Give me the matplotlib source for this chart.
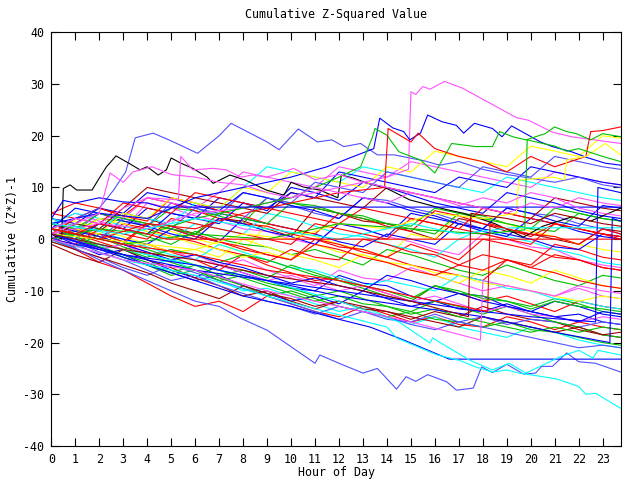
import matplotlib
matplotlib.use("Agg")
import matplotlib.pyplot as plt

# gnuplot-like line colours
RED, GREEN, BLUE, MAGENTA, CYAN = '#ff0000', '#00c000', '#0000ff', '#ff50ff', '#00ffff'
DARKRED, YELLOW, BLACK, LIGHTBLUE = '#a00000', '#ffff00', '#000000', '#5050ff'
cycle_colors = [RED, GREEN, BLUE, MAGENTA, CYAN, DARKRED, YELLOW, BLUE, LIGHTBLUE, RED, GREEN]

# hourly readings of the bulk of the walks
hours = [0, 1, 2, 3, 4, 5, 6, 7, 8, 9, 10, 11, 12, 13, 14, 15, 16, 17, 18, 19, 20, 21, 22, 23, 23.75]
bulk_values = [
    [0, -2, -4.5, -6, -8.5, -11, -13, -12, -14, -11, -12.5, -14, -15, -13, -14.5, -16, -15, -16.5, -17, -15, -16, -17.5, -16, -17, -17.5],
    [2, 1.5, 4, 3.5, 2.5, 6, 5.5, 4.5, 3, 8, 7, 6.5, 5, 4.5, 3, 2.5, 6, 5, 4.5, 3, 2, 1.5, 5, 4, 3.5],
    [1, -1, -3, -2, -4, -6, -7.5, -5, -6.5, -8, -9.5, -10, -7, -8.5, -9, -11, -12, -10.5, -11, -13, -14, -12, -13, -14.5, -15],
    [3, 5, 3.5, 2, 7, 6, 4.5, 3.5, 2, 1.5, 0, -1, 3, 2, 0.5, -0.5, -2, -3, 1, 0, -1.5, -2, -4, -5, -5.5],
    [-0.5, -1.5, -1, -3.5, -5, -4, -6, -8, -10, -9.5, -11, -12.5, -14, -13, -15, -16.5, -15, -17, -18, -19, -17, -18, -19.5, -20.5, -21],
    [4, 2.5, 1.5, 5, 4, 2.5, 1, 4, 3.5, 2, 0.5, 6, 5, 3.5, 3, 1.5, 0, 4, 3, 1.5, 1, 0, -1, 2, 1.5],
    [1, 3, 6, 4.5, 3, 1.5, 0, -1, -2.5, 3, 2, 0.5, -1, -2, -3.5, 1, 0, 5, 4, 3, 1.5, 0.5, -1, -2, -2.5],
    [2, 0, -1.5, -3, -5, -6.5, -8, -7, -9, -10.5, -12, -11, -12.5, -10, -11.5, -13, -12, -13.5, -14, -12.5, -14, -15, -14.5, -16, -16.5],
    [0, 1.5, 5, 4, 2.5, 7, 6, 4.5, 9, 8, 6.5, 5, 4, 8, 7.5, 6, 5, 3.5, 2, 6, 5, 4.5, 3, 2, 1],
    [3, 1, -0.5, -2, -1, -2.5, -4, -6, -3, -5, -6.5, -8, -7.5, -9, -10.5, -12, -9, -10.5, -12, -11, -12.5, -14, -12, -13, -13.5],
    [1, 0.5, 3, 2, 0.5, -1, 1.5, 0, -1, -1.5, -3, -2, -3.5, -5, -2, -3, -4.5, -6, -7, -5, -6.5, -8, -9, -7, -7.5],
    [5, 4, 6, 4.5, 8, 7, 5.5, 4, 3, 2.5, 1, 0, -1.5, -2, -3.5, -1, -2.5, -4, 0, -1, -2, -3.5, -4, -5.5, -6],
    [2, 0.5, -1.5, -3.5, -5, -7, -6, -7.5, -9, -11, -10, -11.5, -13, -14, -15, -14, -15.5, -16, -17, -16, -17.5, -18, -19, -20, -20.5],
    [0, 1, 3, 2, 6, 5, 4, 8, 7, 5.5, 10, 9, 7.5, 11, 10, 8.5, 7, 6, 5, 9, 8, 7, 5.5, 4.5, 4],
    [1, -0.5, -2, -1, -3, -2, -4, -5, -4, -6, -7.5, -9, -6, -7.5, -8, -5.5, -7, -8.5, -10, -9, -10, -11, -9.5, -11, -11.5],
    [3, 5, 4, 2.5, 1.5, 0, 3, 2, 1, 5, 4, 2.5, 1, 0.5, -1, -2, -3.5, 0, 2, 0.5, -0.5, -2, -3, -4.5, -5],
    [-1, -3, -4.5, -2, -4, -5.5, -7.5, -9, -11, -10, -12, -13.5, -12, -13.5, -14, -15.5, -14, -15, -13, -14.5, -15.5, -16, -17.5, -18.5, -19],
    [2, 3.5, 2, 0.5, -1, -2.5, -2, -3.5, 0, -1.5, -3, -4, -5.5, -3, -4.5, -6, -7, -8.5, -6, -7, -8.5, -6, -7.5, -9, -9.5],
    [4, 3, 6, 5, 9, 8, 6.5, 5.5, 9, 8, 6.5, 5.5, 4, 8, 7, 5.5, 4.5, 3, 2, 6, 5, 3.5, 2.5, 6.5, 6],
    [0, -2, -3.5, -5.5, -7, -5, -6.5, -8, -9.5, -11, -12.5, -14, -15.5, -14, -15, -16.5, -17.5, -16, -15, -16.5, -15.5, -16, -17, -16, -16.5],
    [2, 1, 0, 3, 2, 0.5, -0.5, -2, -3, -4.5, -2, -3.5, -4, 0, -1, -2.5, -3, -5, -6, -4, -5.5, -3, -4, -5.5, -6],
    [1, 2, 0.5, -1.5, -3, -4.5, -6, -8, -7, -8.5, -9.5, -11, -10, -11.5, -13, -14, -12, -13, -14.5, -13, -14.5, -16, -17, -18.5, -19],
    [3, 2, 0.5, -1, 3, 2, 1, -0.5, -2, -3, -4, 0, -1, -2.5, -3.5, -5, -6, -7, -8, -4, -5, -1, -2, -3.5, -4],
    [0, -1.5, 1, -0.5, -2, -3.5, -5, -7, -6, -7.5, -5, -6.5, -8, -9.5, -11, -12, -9, -10, -11.5, -12, -13, -11.5, -12.5, -14, -14.5],
    [2, 6, 5, 3.5, 2.5, 1, 0, 4, 3, 1.5, 0.5, -1, 3, 2, 0.5, 5, 4, 3, 1.5, 0.5, 4, 3, 1.5, 0.5, 0],
    [1, 0, -2, -1, -2.5, -4, -3, -5, -6.5, -8, -7, -8.5, -10, -9, -10.5, -12, -11, -12.5, -14, -13, -14.5, -15, -16, -15, -15.5],
    [4, 2.5, 1.5, 0, -1.5, -3, -4, -1, -2.5, -4, -5.5, -6, -7.5, -9, -8, -9, -10, -7, -8, -9.5, -10, -11.5, -12, -13, -13.5],
    [-0.5, -2, -3.5, -5, -6.5, -8.5, -10, -11.5, -9, -10.5, -11.5, -13, -12, -13, -14, -15, -16, -17, -15, -16, -17, -18, -17, -18.5, -18],
    [2, 1, 4, 3, 1.5, 0.5, -1, -2, -3.5, -2.5, -4, -1, -2.5, -3, -4.5, -5, -6.5, -7, -8.5, -9, -10, -11, -12, -11, -11.5],
    [3, 2, 1, 0, -1, 2, 0.5, -0.5, 4, 3, 2, 1, -0.5, -1.5, 1, 0, -1, 3, 2, 1, 0, -1.5, -2, 1, 0.5],
    [1, -0.5, -2.5, -4, -6, -8, -7, -9, -10.5, -12, -13, -14.5, -13, -14, -15.5, -16, -14.5, -16, -17, -18, -19, -20, -21, -20.5, -21],
    [0, 2, 1, -0.5, 3, 2, 0.5, -0.5, -1.5, -3, -4, -1, -2, -3.5, -4.5, -6, -7, -5, -3, -4, -5.5, -6.5, -8, -9, -9.5],
    [2, 0.5, -1, -2, -3.5, -2, -3, -4.5, -3, -4, -5.5, -7, -8, -9, -10, -11.5, -9, -10.5, -11, -12, -13.5, -12, -13, -13.5, -14],
    [5, 7, 6, 4.5, 3.5, 8, 7, 5.5, 4.5, 3, 2, 1, 5, 4, 2.5, 1.5, 5.5, 4.5, 3, 2, 0.5, 3, 2, 1, 0.5],
    [1, 0, -1.5, -3, -4.5, -6.5, -5, -6, -7.5, -9, -10.5, -12, -11, -12.5, -13, -14.5, -13.5, -15, -16, -17, -18, -17, -18, -17, -17.5],
    [3, 1.5, 0.5, -1, -2.5, -4, -3, -4.5, -5.5, -7, -8.5, -7.5, -9, -10, -7, -8, -9.5, -10.5, -12, -13, -14, -15, -16, -14, -14.5],
    [2, 4, 5, 4, 8, 7, 6, 9, 13, 12, 11, 10, 14, 13, 12, 15, 14, 13, 12, 11, 10, 13, 12, 11, 10.5],
    [1, 3, 2, 5, 4, 3, 7, 6, 10, 14, 13, 12, 11, 14, 13, 12, 11, 10, 9, 12, 11, 10, 9, 8, 7.5],
    [0, 3, 2, 6, 10, 9, 8, 7, 6, 5, 9, 8, 7, 6, 10, 9, 8, 7, 6, 5, 4, 8, 7, 6, 5.5],
    [3, 2, 1, 5, 4, 8, 7, 6, 10, 9, 13, 12, 11, 10, 14, 13, 17, 16, 15, 14, 18, 17, 16, 20, 19.5],
    [1, 0, 3, 2, 1, 5, 4, 3, 7, 6, 9, 8, 13, 12, 11, 10, 9, 12, 11, 10, 14, 13, 12, 11, 10.5],
    [2, 1, 0, 4, 3, 2, 6, 5, 4, 8, 7, 11, 10, 9, 13, 12, 11, 10, 14, 13, 12, 16, 15, 14, 13.5],
    [1, 4, 3, 7, 6, 5, 9, 8, 7, 6, 5, 4, 3, 6, 5, 4, 3, 2, 6, 5, 4, 3, 2, 1, 0.5],
    [3, 2, 5, 4, 3, 2, 1, 5, 4, 3, 7, 6, 5, 4, 3, 2, 1, 5, 4, 3, 2, 6, 5, 4, 3.5],
    [0, -1, 2, 1, 0, 4, 3, 2, 1, 0, -1, 3, 2, 1, 0, 4, 3, 2, 1, 0, -1, 3, 2, 1, 0],
]

# walks read at their own break points (jumps, flat runs, extremes)
special_hours = [
    [0, 1, 2, 2.6, 3.1, 3.5, 4.25, 5, 6.1, 7, 7.5, 9, 9.5, 10.3, 11.1, 11.7, 12.2, 12.9, 13.6, 14.3, 15.6, 16.2, 17, 18, 19, 19.7, 21, 22, 23, 23.75],
    [0, 0.43, 0.5, 0.78, 1.06, 1.7, 1.96, 2.3, 2.7, 3.3, 3.7, 4, 4.46, 4.8, 5.0, 5.4, 5.9, 6.5, 6.75, 7.45, 8.1, 8.97, 9.7, 10, 10.5, 11.2, 11.95, 12.1, 12.6, 13.2, 14, 14.95, 15.6, 16.5, 17.2, 18.5, 19.7, 20.5, 21.7, 22.5, 23.75],
    [0, 2, 4, 6, 8, 10, 12, 14, 14.9, 15.0, 15.2, 15.5, 15.8, 16.4, 17.15, 18.1, 19.4, 19.9, 20.9, 21.7, 23.75],
    [0, 2, 4, 6, 8, 10, 11.5, 13.45, 13.7, 14.25, 14.7, 14.95, 15.4, 15.7, 16.3, 16.9, 17.2, 17.65, 18.4, 18.8, 19.2, 19.9, 20.4, 20.9, 21.7, 22.4, 23.1, 23.75],
    [0, 2, 4, 6, 8, 10, 12, 12.9, 13.4, 13.5, 14, 14.5, 15.4, 16, 16.7, 17.7, 18.4, 18.7, 19.25, 19.8, 20.6, 20.99, 21.5, 21.9, 22.5, 23, 23.75],
    [0, 2, 4, 6, 8, 10, 12, 13.9, 14.05, 15, 15.3, 16, 17, 18, 19, 20, 21, 22.3, 22.5, 23, 23.75],
    [0, 2, 4, 6, 8, 10, 12, 14, 16, 18, 19.4, 19.5, 20.9, 21.4, 21.5, 22.3, 23.1, 23.75],
    [0, 3, 6, 9, 12, 15, 18, 19.75, 19.85, 20.5, 21, 21.5, 22, 23, 23.75],
    [0, 2, 4, 6, 7, 7.9, 9, 10, 11, 11.2, 12, 13, 13.6, 14.4, 14.8, 15.2, 15.7, 16.5, 16.9, 17.6, 17.95, 18.4, 19, 19.7, 20.2, 20.45, 20.9, 21.5, 22, 22.7, 23.75],
    [0, 2, 4, 6, 8, 10, 12, 13.3, 14.7, 16.6, 23.75],
    [0, 3, 6, 9, 11.2, 14, 14.4, 16.1, 17, 17.7, 18.4, 19, 19.5, 20.8, 21.2, 22, 22.3, 22.7, 23.75],
    [0, 3, 6, 9, 12, 14.5, 15.8, 15.9, 17.45, 18.4, 19.1, 19.8, 21.2, 22, 22.6, 22.8, 23.75],
    [0, 0.5, 1, 2, 3, 4, 4.6, 23.75],
    [0, 3, 6, 9, 12, 15, 17, 19.2, 23.75],
    [0, 1, 2, 3, 4, 4.8, 23.75],
    [0, 1, 2, 3, 4, 5.3, 5.4, 5.9, 6.75, 7.3, 7.9, 8.4, 8.97, 9.6, 10.1, 11, 12, 13, 14, 15, 16, 17, 18, 19, 20, 21, 22, 23, 23.75],
    [0, 1, 2, 2.45, 3, 3.4, 4.2, 5, 6, 7, 8, 9, 10, 11, 12, 13, 14, 15, 16, 17, 18, 19, 20, 21, 22, 23, 23.75],
    [0, 3, 6, 9, 12, 15, 18, 20, 22.7, 22.8, 23.75],
    [0, 3, 6, 9, 12, 15, 18, 21, 23.3, 23.4, 23.75],
    [0, 3, 6, 9, 12, 15, 17.9, 18.0, 18.5, 19, 20, 21, 22, 23, 23.75],
    [0, 3, 6, 9, 12, 15, 18.2, 18.3, 19, 20, 21, 22, 23, 23.75],
    [0, 3, 6, 9, 12, 15, 17.4, 17.5, 19, 20, 21, 22, 23, 23.75],
]
special_values = [
    [2, 4, 6, 9.5, 13, 19.6, 20.5, 19, 16.6, 20, 22.4, 18.8, 17.3, 21.3, 18.8, 19.2, 17.9, 18.5, 16.3, 16.3, 15.1, 14.3, 15, 13.5, 12.5, 12, 11, 12, 10.5, 10],
    [1, 0, 9.8, 10.5, 9.5, 9.5, 11.5, 14, 16.1, 14.5, 13.4, 14, 12.4, 13.4, 15.7, 14.7, 13.7, 12, 10.8, 12.4, 11.4, 9.5, 8.5, 11, 10.1, 9.5, 8, 12.4, 11.8, 10.8, 9.8, 7.6, 6.8, 5.7, 5, 3, 0.4, 2.5, 4.3, 3.5, 6],
    [1, 3, 2, 5, 6, 8, 10, 12, 13.5, 28.5, 28, 29.5, 29, 30.5, 29.2, 26.8, 23.5, 23, 20.7, 19.8, 18.5],
    [3, 5, 4, 8, 10, 12, 14, 17.5, 23.4, 21.5, 20.8, 19.2, 20.5, 24, 22.7, 22, 20.5, 22.4, 21.4, 19.8, 21.9, 20.1, 18.8, 17.9, 16.9, 15.7, 14.7, 14.3],
    [0, 2, 1, 4, 6, 8, 12, 14, 19.8, 21.4, 20.1, 16.9, 15.3, 12.8, 18.5, 17.9, 17.9, 20.8, 19.8, 19.2, 20.4, 21.7, 20.8, 20.4, 19.2, 20.4, 19.8],
    [2, 0, 3, 2, 5, 7, 9, 10, 21.4, 18.8, 20.5, 17.5, 16, 15, 13, 16, 14, 16, 20.8, 21, 21.7],
    [1, 0, -1, -2, 1, 0, 3, 2, 5, 4, 5, 11.4, 12, 11.5, 15.3, 16, 18.5, 16.3],
    [2, -1, 1, 0, 3, 2, 1, 1.8, 19.2, 18.5, 18, 17, 17.5, 16, 15],
    [0.5, -4, -8, -12, -13, -15.3, -17.6, -20.8, -24, -22.4, -24, -25.9, -25, -29, -26.6, -27.5, -26.2, -27.6, -29.2, -28.8, -24.7, -25.8, -24.2, -26.1, -25.9, -24.6, -24.6, -22, -23.7, -24, -25.7],
    [1, -2, -5, -8, -11, -13, -15.5, -17, -19.5, -23.2, -23.2],
    [0, -4, -7, -11, -13.7, -17, -19.1, -22.4, -23.4, -24.7, -25.7, -25.3, -25.9, -26.8, -27.2, -28.5, -30, -29.8, -32.7],
    [1, -2, -5, -8, -12, -16, -20.1, -19.1, -23.4, -25.3, -24, -25.9, -22.8, -21.5, -23, -21.5, -22.4],
    [4, 7.5, 7, 8, 7.2, 7, 6.2, 6.2],
    [3, 1, 4, 2, 0, 3, 1, 2.2, 2.2],
    [2, 1, 3, 2, 1, 0, 0],
    [2, 4, 3, 6, 8, 7.6, 16, 13.4, 13.7, 13.4, 12, 12.4, 12, 12.8, 13.7, 11.5, 12.5, 11, 10, 9, 8, 6.5, 8, 7, 9, 8, 6, 5, 4.5],
    [1, 3, 5, 12.8, 11, 13, 14, 12.5, 12, 11, 10.5, 9, 8, 10, 9, 8, 7, 9, 8, 7, 6, 5, 7, 6, 8, 7, 6.5],
    [1, -3, -6, -8, -10, -12, -14, -15, -16, 10, 9],
    [0, -3, -5, -8, -11, -13, -15, -18, -20, 4, 3.5],
    [0, -4, -6, -10, -13, -16, -19.5, -8, -8.5, -9, -10, -11, -9, -10, -10.5],
    [2, -1, -3, -6, -8, -11, -14, 3, 2, 1, 0.5, -1, 2, 1],
    [1, -2, -4, -7, -9, -12, -15, 5, 4, 3, 5, 4, 3, 2.5],
]
special_colors = [LIGHTBLUE, BLACK, MAGENTA, BLUE, GREEN, RED, YELLOW, GREEN, LIGHTBLUE, BLUE, CYAN, CYAN,
                  BLUE, CYAN, RED, MAGENTA, MAGENTA, BLUE, BLUE, MAGENTA, RED, DARKRED]

fig = plt.figure(figsize=(6.4, 4.8), dpi=100)
ax = fig.add_axes([0.0802, 0.0708, 0.8896, 0.8619])

for i, vals in enumerate(bulk_values):
    ax.plot(hours, vals, color=cycle_colors[i % len(cycle_colors)], lw=0.8)
for xs, ys, c in zip(special_hours, special_values, special_colors):
    ax.plot(xs, ys, color=c, lw=0.8)

ax.set_xlim(0, 23.75)
ax.set_ylim(-40, 40)
ax.set_xticks(range(24))
ax.set_yticks(range(-40, 41, 10))
font = dict(family='DejaVu Sans Mono', size=8.4)
ax.set_xticklabels([str(h) for h in range(24)], **font)
ax.set_yticklabels([str(v) for v in range(-40, 41, 10)], **font)
ax.tick_params(direction='in', length=6, width=0.8, top=True, right=True, pad=5)
for s in ax.spines.values():
    s.set_linewidth(0.8)

ax.set_title('Cumulative Z-Squared Value', family='DejaVu Sans Mono', size=8.4, pad=10)
ax.set_xlabel('Hour of Day', **font, labelpad=0)
ax.set_ylabel('Cumulative (Z*Z)-1', **font, labelpad=3)

fig.savefig('out.png', dpi=100)
